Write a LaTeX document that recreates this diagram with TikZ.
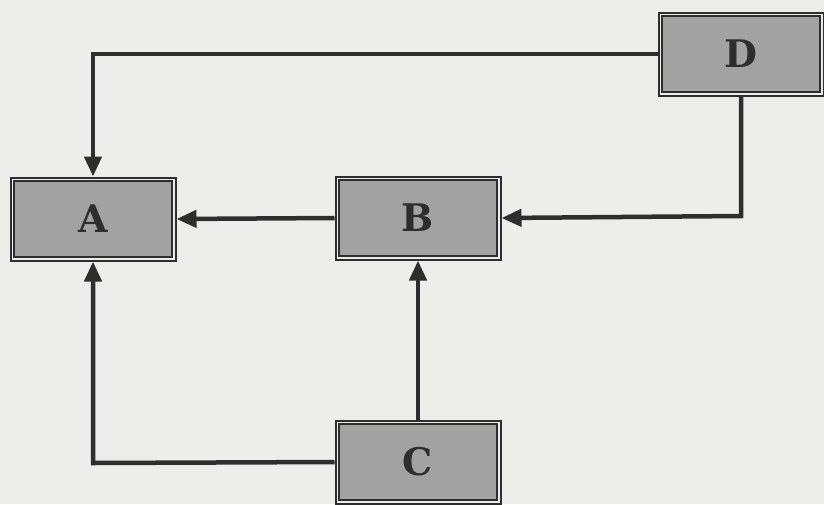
\documentclass[tikz,border=0pt]{standalone}
\usepackage{fontspec}
\setmainfont{DejaVu Serif}
\usetikzlibrary{arrows.meta}
\definecolor{paper}{HTML}{EDEDEB}
\definecolor{boxfill}{HTML}{A2A2A2}
\definecolor{ink}{HTML}{2E2E2E}
\tikzset{
  blk/.style={fill=boxfill, draw=ink, line width=4pt,
    minimum width=163pt, minimum height=81pt, inner sep=0pt,
    font=\fontsize{38}{38}\selectfont\bfseries, text=ink},
  gapline/.style={draw=paper, line width=1.6pt},
  innerline/.style={draw=ink, line width=2pt},
  conn/.style={draw=ink, line width=4.5pt, -{Triangle[length=20pt,width=17pt]}}
}
\begin{document}
\begin{tikzpicture}[x=1pt,y=-1pt]
\fill[paper] (0,0) rectangle (824,504);
\useasboundingbox (0,0) rectangle (824,504);
\node[blk] (A) at (93,219) {A};
\node[blk] (B) at (418,218) {B};
\node[blk] (C) at (418,462) {C};
\node[blk] (D) at (741,54) {D};
\foreach \n in {A,B,C,D}{
  \draw[gapline] ([shift={(2.8,2.8)}]\n.north west) rectangle ([shift={(-2.8,-2.8)}]\n.south east);
  \draw[innerline] ([shift={(4.6,4.6)}]\n.north west) rectangle ([shift={(-4.6,-4.6)}]\n.south east);
}
\coordinate (dA) at (93,54);
\coordinate (dB) at (741,216);
\coordinate (cA) at (93,463);
\draw[conn] (D.west) -- (dA) -- (A.north);
\draw[conn] (D.south) -- (dB) -- (B.east);
\draw[conn] (B.west) -- (A.east);
\draw[conn] (C.north) -- (B.south);
\draw[conn] (C.west) -- (cA) -- (A.south);
\end{tikzpicture}
\end{document}
